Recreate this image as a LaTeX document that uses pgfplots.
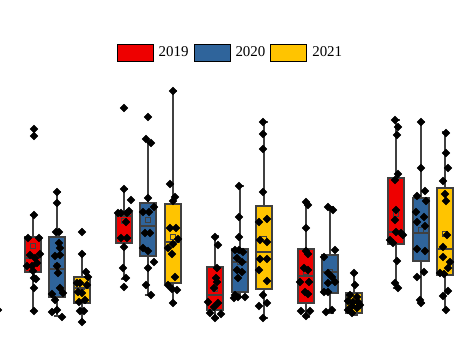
\documentclass[border=0pt]{standalone}
\usepackage{pgfplots}
\pgfplotsset{compat=1.18}
\usepgfplotslibrary{statistics}
\usepackage{fontspec}
\setmainfont{Liberation Serif}
\definecolor{cr}{RGB}{238,0,0}
\definecolor{cb}{RGB}{47,100,155}
\definecolor{cy}{RGB}{255,196,0}
\definecolor{wk}{RGB}{64,64,64}
\pgfplotsset{
 bx/.style={forget plot, draw=wk, line width=1.3bp, solid, mark=none},
 pts/.style={forget plot, only marks, mark=square*, mark size=2.85bp, mark options={rotate=45, fill=black, draw=black, line width=0.1bp}},
 mn/.style={forget plot, only marks, mark=square, mark size=2.3bp, mark options={draw=wk, line width=0.7bp, fill=none}},
}
\begin{document}
\begin{tikzpicture}
\useasboundingbox (0,0) rectangle (476bp,362bp);
\begin{axis}[
  at={(0,0)}, anchor=south west,
  scale only axis, width=476bp, height=362bp,
  xmin=0, xmax=476, ymin=0, ymax=362, y dir=reverse,
  hide axis, clip=false,
  boxplot/draw direction=y,
  boxplot/box extend=16, boxplot/whisker extend=7,
  legend columns=3,
  legend image code/.code={\draw[#1] (0bp,-8.5bp) rectangle (36bp,8.5bp);},
  legend style={at={(axis cs:230,52.5)}, anchor=center, draw=none, fill=none,
    font=\fontsize{15}{17}\selectfont, column sep=4bp,
    nodes={inner sep=1bp}},
]
\addlegendimage{fill=cr, draw=black, line width=0.9bp}
\addlegendentry{2019}
\addlegendimage{fill=cb, draw=black, line width=0.9bp}
\addlegendentry{2020}
\addlegendimage{fill=cy, draw=black, line width=0.9bp}
\addlegendentry{2021}

% ---- boxes: group 1
\addplot[bx, fill=cr, boxplot prepared={draw position=33, lower whisker=215, lower quartile=237, median=258, upper quartile=272, upper whisker=311}] coordinates {};
\addplot[bx, fill=cb, boxplot prepared={draw position=57, lower whisker=192, lower quartile=237, median=269, upper quartile=297, upper whisker=316}] coordinates {};
\addplot[bx, fill=cy, boxplot prepared={draw position=82, lower whisker=254, lower quartile=277, median=288, upper quartile=303, upper whisker=322}] coordinates {};
% group 2
\addplot[bx, fill=cr, boxplot prepared={draw position=124, lower whisker=189, lower quartile=213, median=216, upper quartile=243, upper whisker=279}] coordinates {};
\addplot[bx, fill=cb, boxplot prepared={draw position=148, lower whisker=141, lower quartile=203, median=226, upper quartile=256, upper whisker=295}] coordinates {};
\addplot[bx, fill=cy, boxplot prepared={draw position=173, lower whisker=91, lower quartile=204, median=242, upper quartile=283, upper whisker=303}] coordinates {};
% group 3
\addplot[bx, fill=cr, boxplot prepared={draw position=215, lower whisker=236, lower quartile=267, median=295, upper quartile=310, upper whisker=318}] coordinates {};
\addplot[bx, fill=cb, boxplot prepared={draw position=240, lower whisker=186, lower quartile=249, median=262, upper quartile=292, upper whisker=297}] coordinates {};
\addplot[bx, fill=cy, boxplot prepared={draw position=264, lower whisker=122, lower quartile=206, median=252, upper quartile=289, upper whisker=318}] coordinates {};
% group 4
\addplot[bx, fill=cr, boxplot prepared={draw position=306, lower whisker=203, lower quartile=249, median=276, upper quartile=303, upper whisker=317}] coordinates {};
\addplot[bx, fill=cb, boxplot prepared={draw position=330, lower whisker=207, lower quartile=255, median=272, upper quartile=293, upper whisker=313}] coordinates {};
\addplot[bx, fill=cy, boxplot prepared={draw position=354, lower whisker=273, lower quartile=293, median=303, upper quartile=313, upper whisker=315}] coordinates {};
% group 5
\addplot[bx, fill=cr, boxplot prepared={draw position=396, lower whisker=120, lower quartile=178, median=232, upper quartile=244, upper whisker=288}] coordinates {};
\addplot[bx, fill=cb, boxplot prepared={draw position=421, lower whisker=122, lower quartile=198, median=233, upper quartile=261, upper whisker=303}] coordinates {};
\addplot[bx, fill=cy, boxplot prepared={draw position=445, lower whisker=132, lower quartile=188, median=249, upper quartile=275, upper whisker=310}] coordinates {};

% ---- means
\addplot[mn] coordinates {(33,246) (57,266) (82,287) (124,221) (148,220) (173,237) (215,289) (240,262) (264,239) (306,272) (330,272) (354,310) (396,214) (421,230) (445,234)};

% ---- points
% group 1
\addplot[pts] coordinates {(34,129) (34,136) (34,215) (28,238) (39,238) (30,255) (40,254) (35,258) (27,266) (32,266) (37,263) (33,271) (34,278) (36,279) (34,288) (34,311)};
\addplot[pts] coordinates {(57,192) (57,203) (56,232) (59,232) (59,243) (60,248) (55,256) (60,255) (57,266) (58,273) (52,294) (63,293) (60,288) (55,300) (57,310) (52,312) (62,317)};
\addplot[pts] coordinates {(82,232) (82,254) (86,272) (88,277) (77,283) (80,283) (87,285) (78,292) (82,293) (85,300) (79,302) (80,311) (84,311) (82,322)};
% group 2
\addplot[pts] coordinates {(124,108) (124,189) (131,200) (118,213) (121,213) (127,213) (129,211) (126,222) (121,238) (127,238) (124,247) (123,268) (126,278) (124,287)};
\addplot[pts] coordinates {(148,117) (146,139) (151,143) (148,198) (143,212) (149,212) (154,207) (145,233) (150,233) (143,248) (148,251) (148,268) (154,262) (146,285) (151,295)};
\addplot[pts] coordinates {(173,91) (170,184) (175,197) (173,201) (170,228) (176,228) (178,239) (173,244) (168,248) (172,254) (175,277) (168,285) (172,289) (177,290) (173,303)};
% group 3
\addplot[pts] coordinates {(215,237) (218,245) (217,268) (216,278) (217,282) (214,288) (208,302) (218,303) (214,307) (210,313) (221,314) (215,318)};
\addplot[pts] coordinates {(239,186) (239,217) (239,237) (235,250) (239,250) (243,252) (237,258) (242,262) (237,270) (242,272) (238,278) (235,295) (238,297) (245,297) (234,298)};
\addplot[pts] coordinates {(263,122) (263,134) (263,149) (263,192) (259,222) (267,219) (260,240) (267,242) (260,259) (267,259) (259,270) (267,281) (263,295) (259,306) (267,303) (263,318)};
% group 4
\addplot[pts] coordinates {(306,202) (308,205) (306,228) (306,251) (308,254) (304,268) (308,270) (300,282) (309,282) (305,292) (308,294) (301,311) (310,311) (306,316)};
\addplot[pts] coordinates {(328,207) (333,210) (335,250) (324,257) (328,273) (332,277) (328,283) (335,282) (324,292) (328,292) (326,312) (332,310)};
\addplot[pts] coordinates {(354,273) (355,285) (350,295) (357,297) (348,301) (353,302) (358,302) (352,306) (348,310) (357,308) (352,313) (360,305)};
% group 5
\addplot[pts] coordinates {(395,120) (398,127) (397,135) (398,174) (395,180) (396,210) (395,220) (396,232) (401,233) (403,235) (390,240) (393,243) (397,261) (395,283) (398,288)};
\addplot[pts] coordinates {(421,122) (421,168) (425,191) (417,196) (426,201) (416,212) (424,217) (417,222) (425,226) (417,249) (425,251) (424,272) (417,277) (420,300) (421,303)};
\addplot[pts] coordinates {(446,133) (446,153) (448,168) (443,181) (445,194) (446,201) (447,235) (443,247) (443,257) (450,262) (448,268) (440,273) (444,274) (448,291) (443,296) (446,310)};
% clipped point at left edge
\addplot[pts] coordinates {(-2,310)};
\end{axis}
\end{tikzpicture}
\end{document}
